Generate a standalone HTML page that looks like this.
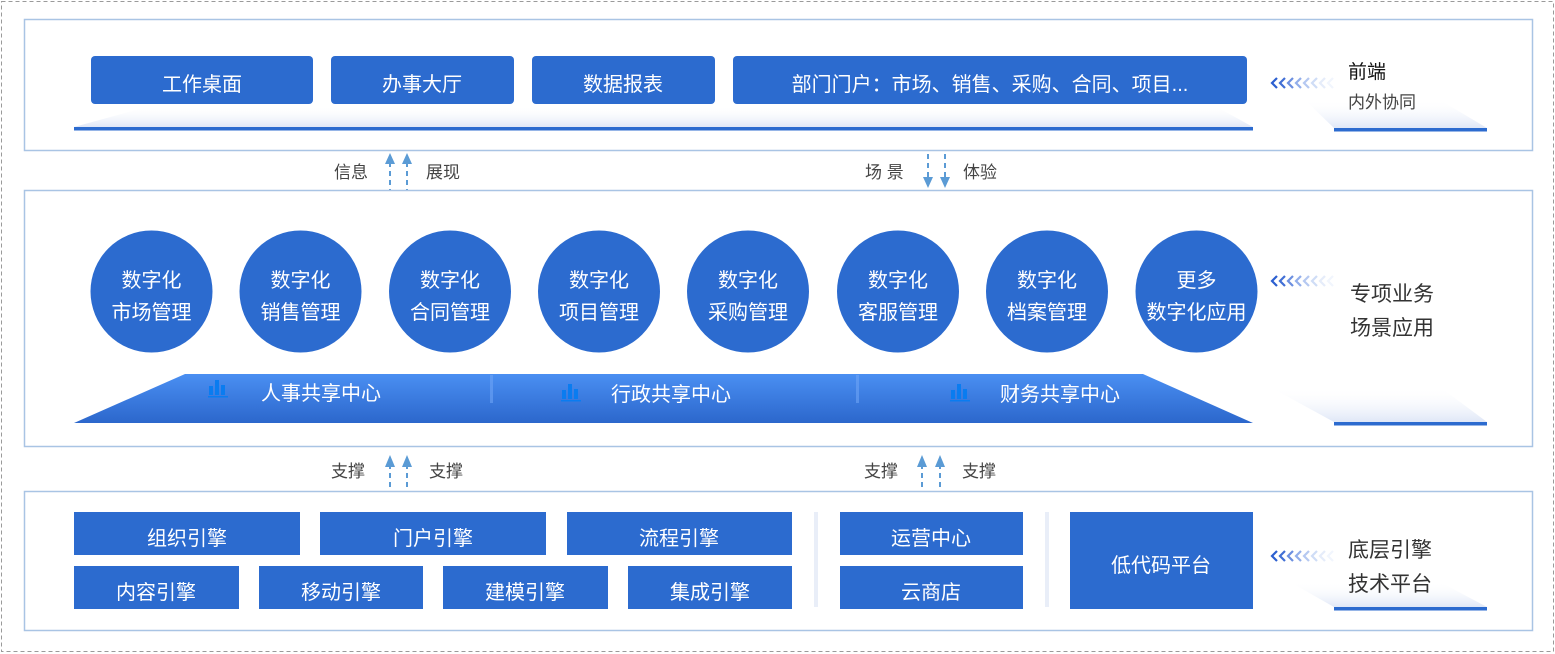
<!DOCTYPE html>
<html><head><meta charset="utf-8"><style>
html,body{margin:0;padding:0;background:#fff;}
svg{display:block;font-family:"Liberation Sans","Noto Sans CJK SC",sans-serif;}
</style></head><body>
<svg width="1555" height="654" viewBox="0 0 1555 654" xmlns="http://www.w3.org/2000/svg">
<defs>
<linearGradient id="fade" x1="0" y1="0" x2="0" y2="1">
<stop offset="0" stop-color="#ffffff" stop-opacity="0"/><stop offset="1" stop-color="#dfe7f7"/></linearGradient>
<linearGradient id="band" x1="0" y1="0" x2="0" y2="1">
<stop offset="0" stop-color="#4a8ff2"/><stop offset="1" stop-color="#2c67cc"/></linearGradient>
<g id="chev">
<path d="M6,-5 L1,0 L6,5" fill="none" stroke="#2c5fd0" stroke-width="2.2"/>
<path d="M14,-5 L9,0 L14,5" fill="none" stroke="#2c5fd0" stroke-width="2.2" opacity="0.9"/>
<path d="M22,-5 L17,0 L22,5" fill="none" stroke="#3b6ad6" stroke-width="2.2" opacity="0.75"/>
<path d="M30,-5 L25,0 L30,5" fill="none" stroke="#4a78dc" stroke-width="2.2" opacity="0.6"/>
<path d="M38,-5 L33,0 L38,5" fill="none" stroke="#5a86e0" stroke-width="2.2" opacity="0.45"/>
<path d="M46,-5 L41,0 L46,5" fill="none" stroke="#6b94e4" stroke-width="2.2" opacity="0.32"/>
<path d="M54,-5 L49,0 L54,5" fill="none" stroke="#7ba0e8" stroke-width="2.2" opacity="0.2"/>
<path d="M62,-5 L57,0 L62,5" fill="none" stroke="#8cacec" stroke-width="2.2" opacity="0.12"/>
</g>
<g id="bars"><rect x="0" y="6" width="4" height="9" fill="#0a7cf0"/><rect x="6" y="0" width="4" height="15" fill="#0a7cf0"/><rect x="12" y="5" width="4" height="10" fill="#0a7cf0"/><rect x="-1" y="16" width="20" height="1.5" fill="#0a7cf0"/></g>
</defs>
<rect x="1.5" y="1.5" width="1552" height="650" fill="none" stroke="#9a9a9a" stroke-dasharray="4,3"/>

<!-- Section 1 -->
<rect x="24.5" y="19.5" width="1508" height="131" fill="#fff" stroke="#a9c4e4" stroke-width="1.5"/>
<polygon points="74,127 150,106 1215,106 1253,127" fill="url(#fade)"/>
<rect x="74" y="127" width="1179" height="3.5" fill="#2c6bcf"/>
<g fill="#2c6bcf">
<rect x="91" y="56" width="222" height="48" rx="4"/>
<rect x="331" y="56" width="183" height="48" rx="4"/>
<rect x="532" y="56" width="183" height="48" rx="4"/>
<rect x="733" y="56" width="514" height="48" rx="4"/>
</g>
<g fill="#fff" font-size="20" text-anchor="middle">
<text x="202" y="91">工作桌面</text>
<text x="422" y="91">办事大厅</text>
<text x="623" y="91">数据报表</text>
<text x="990" y="91">部门门户：市场、销售、采购、合同、项目...</text>
</g>
<polygon points="1305,100 1440,100 1487,128 1334,128" fill="url(#fade)"/>
<rect x="1334" y="128" width="153" height="3.5" fill="#2c6bcf"/>
<use href="#chev" x="1271" y="83"/>
<text x="1348" y="78" font-size="19" fill="#111">前端</text>
<text x="1348" y="108" font-size="17" fill="#444">内外协同</text>

<!-- arrows 1-2 -->
<g stroke="#5b9bd5" stroke-width="2" stroke-dasharray="5,4">
<line x1="390" y1="162" x2="390" y2="190"/><line x1="407" y1="162" x2="407" y2="190"/>
<line x1="928" y1="154" x2="928" y2="178"/><line x1="945" y1="154" x2="945" y2="178"/>
</g>
<g fill="#5b9bd5">
<polygon points="385,164 390,153 395,164"/><polygon points="402,164 407,153 412,164"/>
<polygon points="923,177 928,188 933,177"/><polygon points="940,177 945,188 950,177"/>
</g>
<g font-size="17" fill="#444">
<text x="334" y="178">信息</text><text x="426" y="178">展现</text>
<text x="865" y="178">场 景</text><text x="963" y="178">体验</text>
</g>

<!-- Section 2 -->
<rect x="24.5" y="190.5" width="1508" height="256" fill="#fff" stroke="#a9c4e4" stroke-width="1.5"/>
<g fill="#2c6bcf">
<circle cx="151.5" cy="291.5" r="61"/><circle cx="300.5" cy="291.5" r="61"/><circle cx="450" cy="291.5" r="61"/><circle cx="599" cy="291.5" r="61"/>
<circle cx="748" cy="291.5" r="61"/><circle cx="898" cy="291.5" r="61"/><circle cx="1047" cy="291.5" r="61"/><circle cx="1196.5" cy="291.5" r="61"/>
</g>
<g fill="#fff" font-size="20" text-anchor="middle">
<text x="151.5" y="287">数字化</text><text x="151.5" y="319">市场管理</text>
<text x="300.5" y="287">数字化</text><text x="300.5" y="319">销售管理</text>
<text x="450" y="287">数字化</text><text x="450" y="319">合同管理</text>
<text x="599" y="287">数字化</text><text x="599" y="319">项目管理</text>
<text x="748" y="287">数字化</text><text x="748" y="319">采购管理</text>
<text x="898" y="287">数字化</text><text x="898" y="319">客服管理</text>
<text x="1047" y="287">数字化</text><text x="1047" y="319">档案管理</text>
<text x="1196.5" y="287">更多</text><text x="1196.5" y="319">数字化应用</text>
</g>
<polygon points="185,374 1143,374 1253,423 74,423" fill="url(#band)"/>
<rect x="490" y="375" width="3" height="28" fill="#6ea4f5" opacity="0.6"/>
<rect x="856" y="375" width="3" height="28" fill="#6ea4f5" opacity="0.6"/>
<use href="#bars" x="209" y="380"/><use href="#bars" x="562" y="384"/><use href="#bars" x="951" y="384"/>
<g fill="#fff" font-size="20" text-anchor="middle">
<text x="321" y="400">人事共享中心</text><text x="671" y="401">行政共享中心</text><text x="1060" y="401">财务共享中心</text>
</g>
<polygon points="1270,387 1440,387 1487,422 1334,422" fill="url(#fade)"/>
<rect x="1334" y="422" width="153" height="3.5" fill="#2c6bcf"/>
<use href="#chev" x="1271" y="281"/>
<text x="1350" y="301" font-size="21" fill="#333">专项业务</text>
<text x="1350" y="335" font-size="21" fill="#333">场景应用</text>

<!-- arrows 2-3 -->
<g stroke="#5b9bd5" stroke-width="2" stroke-dasharray="5,4">
<line x1="390" y1="464" x2="390" y2="487"/><line x1="407" y1="464" x2="407" y2="487"/>
<line x1="922" y1="464" x2="922" y2="487"/><line x1="940" y1="464" x2="940" y2="487"/>
</g>
<g fill="#5b9bd5">
<polygon points="385,467 390,455 395,467"/><polygon points="402,467 407,455 412,467"/>
<polygon points="917,467 922,455 927,467"/><polygon points="935,467 940,455 945,467"/>
</g>
<g font-size="17" fill="#444">
<text x="331" y="477">支撑</text><text x="429" y="477">支撑</text>
<text x="864" y="477">支撑</text><text x="962" y="477">支撑</text>
</g>

<!-- Section 3 -->
<rect x="24.5" y="491.5" width="1508" height="139" fill="#fff" stroke="#a9c4e4" stroke-width="1.5"/>
<g fill="#2c6bcf">
<rect x="74" y="512" width="226" height="43"/><rect x="320" y="512" width="226" height="43"/><rect x="567" y="512" width="225" height="43"/>
<rect x="74" y="566" width="165" height="43"/><rect x="259" y="566" width="164" height="43"/><rect x="443" y="566" width="165" height="43"/><rect x="628" y="566" width="164" height="43"/>
<rect x="840" y="512" width="183" height="43"/><rect x="840" y="566" width="183" height="43"/>
<rect x="1070" y="512" width="183" height="97"/>
</g>
<rect x="814" y="512" width="4" height="95" fill="#e9eef8"/>
<rect x="1045" y="512" width="4" height="95" fill="#e9eef8"/>
<g fill="#fff" font-size="20" text-anchor="middle">
<text x="187" y="545">组织引擎</text><text x="433" y="545">门户引擎</text><text x="679" y="545">流程引擎</text>
<text x="156" y="599">内容引擎</text><text x="341" y="599">移动引擎</text><text x="525" y="599">建模引擎</text><text x="710" y="599">集成引擎</text>
<text x="931" y="545">运营中心</text><text x="931" y="599">云商店</text>
<text x="1161" y="572">低代码平台</text>
</g>
<polygon points="1290,582 1440,582 1487,607 1334,607" fill="url(#fade)"/>
<rect x="1334" y="607" width="153" height="3.5" fill="#2c6bcf"/>
<use href="#chev" x="1271" y="556"/>
<text x="1348" y="557" font-size="21" fill="#333">底层引擎</text>
<text x="1348" y="591" font-size="21" fill="#333">技术平台</text>
</svg>
</body></html>
